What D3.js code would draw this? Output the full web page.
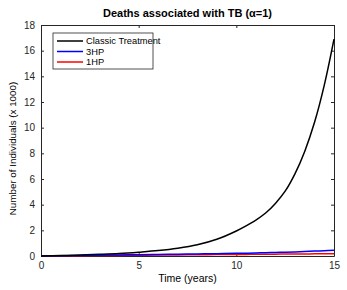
<!DOCTYPE html>
<meta charset="utf-8">
<script src="https://d3js.org/d3.v7.min.js"></script>
<style>
body { margin: 0; background: #fff; }
svg { font-family: "Liberation Sans", Arial, sans-serif; }
.axis path, .axis line { stroke: #262626; }
.axis text { font-size: 10px; fill: #262626; }
</style>
<body>
<script>

// time points (years)
var years = [0, 1, 2, 3, 4, 5, 6, 7, 8, 9, 10, 10.5, 11, 11.5, 12, 12.5, 13, 13.5, 14, 14.5, 15];
// deaths (x 1000)
var classic = [0, 0.03, 0.07, 0.13, 0.2, 0.3, 0.42, 0.6, 0.87, 1.3, 1.95, 2.35, 2.8, 3.35, 4.1, 5.05, 6.4, 8.15, 10.4, 13.3, 16.9];
var hp3 = [0, 0.02, 0.04, 0.06, 0.08, 0.1, 0.12, 0.14, 0.16, 0.18, 0.21, 0.22, 0.24, 0.26, 0.28, 0.3, 0.32, 0.35, 0.38, 0.41, 0.44];
var hp1 = [0, 0.012, 0.024, 0.036, 0.048, 0.06, 0.072, 0.084, 0.096, 0.108, 0.12, 0.126, 0.132, 0.138, 0.144, 0.15, 0.156, 0.162, 0.168, 0.174, 0.18];

var seriesNames = ["Classic Treatment", "3HP", "1HP"];
var seriesColors = ["#000000", "#0000ff", "#ff0000"];
var xTicks = [0, 5, 10, 15];
var yTicks = [0, 2, 4, 6, 8, 10, 12, 14, 16, 18];

var margin = {top: 25, right: 13, bottom: 34, left: 41};
var width = 347 - margin.left - margin.right,
    height = 290 - margin.top - margin.bottom;

var svg = d3.select("body").append("svg")
    .attr("width", 347)
    .attr("height", 290);

var g = svg.append("g")
    .attr("transform", "translate(" + margin.left + "," + margin.top + ")");

var xScale = d3.scaleLinear().domain([0, 15]).range([0, width]);
var yScale = d3.scaleLinear().domain([0, 18]).range([height, 0]);

// axes (ticks inward, box on)
g.append("g")
    .attr("class", "x axis")
    .attr("transform", "translate(0," + height + ")")
    .call(d3.axisBottom(xScale).tickValues(xTicks).tickSizeInner(-3).tickSizeOuter(0).tickPadding(6));
g.append("g")
    .attr("class", "y axis")
    .call(d3.axisLeft(yScale).tickValues(yTicks).tickSizeInner(-3).tickSizeOuter(0).tickPadding(6));
g.append("g")
    .attr("class", "axis")
    .call(d3.axisTop(xScale).tickValues(xTicks).tickSizeInner(-3).tickSizeOuter(0).tickFormat(""));
g.append("g")
    .attr("class", "axis")
    .attr("transform", "translate(" + width + ",0)")
    .call(d3.axisRight(yScale).tickValues(yTicks).tickSizeInner(-3).tickSizeOuter(0).tickFormat(""));

var line = d3.line()
    .x(function(d) { return xScale(d[0]); })
    .y(function(d) { return yScale(d[1]); })
    .curve(d3.curveCatmullRom);

var allSeries = [classic, hp3, hp1];
// black drawn last so it sits on top
[2, 1, 0].forEach(function(i) {
  g.append("path")
    .datum(years.map(function(t, j) { return [t, allSeries[i][j]]; }))
    .attr("fill", "none")
    .attr("stroke", seriesColors[i])
    .attr("stroke-width", 1.5)
    .attr("d", line);
});

// title
svg.append("text")
    .attr("x", margin.left + width / 2)
    .attr("y", 17)
    .attr("text-anchor", "middle")
    .style("font-size", "11px")
    .style("font-weight", "bold")
    .text("Deaths associated with TB (\u03b1=1)");

// axis labels
svg.append("text")
    .attr("x", margin.left + width / 2)
    .attr("y", 282)
    .attr("text-anchor", "middle")
    .style("font-size", "10.5px")
    .text("Time (years)");

svg.append("text")
    .attr("transform", "translate(16," + (margin.top + height / 2 + 8) + ") rotate(-90)")
    .attr("text-anchor", "middle")
    .style("font-size", "9.8px")
    .text("Number of Individuals (x 1000)");

// legend
var legend = g.append("g").attr("transform", "translate(12,8)");
legend.append("rect")
    .attr("width", 100).attr("height", 36)
    .attr("fill", "#fff").attr("stroke", "#262626").attr("stroke-width", 0.8);
seriesNames.forEach(function(name, i) {
  var row = legend.append("g").attr("transform", "translate(0," + (8 + i * 10.5) + ")");
  row.append("line")
    .attr("x1", 4).attr("x2", 30)
    .attr("stroke", seriesColors[i]).attr("stroke-width", 1.5);
  row.append("text")
    .attr("x", 33).attr("dy", "0.35em")
    .style("font-size", "9.3px")
    .text(name);
});

</script>
</body>
